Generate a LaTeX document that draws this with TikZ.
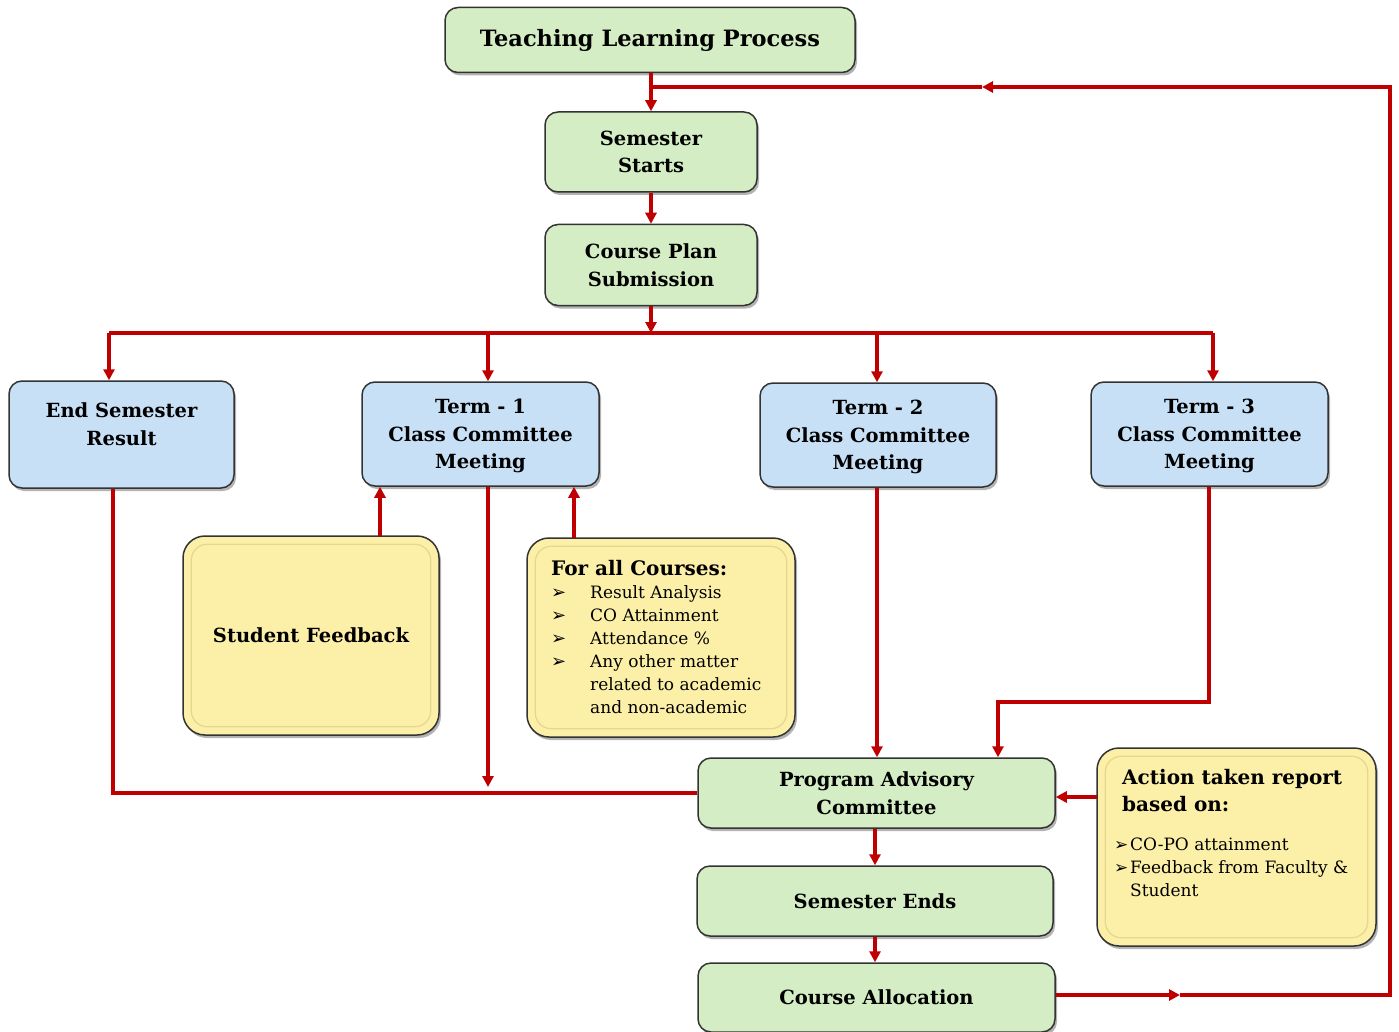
\documentclass[tikz,border=0pt]{standalone}
\usepackage{fontspec}
\setmainfont{DejaVu Serif}
\newfontfamily\symf{DejaVu Sans}
\usetikzlibrary{shadows,arrows.meta,calc}
\definecolor{gfill}{HTML}{D4EDC4}
\definecolor{bfill}{HTML}{C7E0F6}
\definecolor{yfill}{HTML}{FCF0A8}
\definecolor{yline}{HTML}{E6D78E}
\definecolor{arr}{HTML}{C00000}
\newcommand{\bul}{\makebox[39pt][l]{\symf\fontsize{18}{18}\selectfont ➢}}
\newcommand{\sbul}{\makebox[16pt][l]{\symf\fontsize{17}{17}\selectfont ➢}}
\begin{document}
\begin{tikzpicture}[x=1pt,y=-1pt,
  base/.style={rounded corners=13pt, draw=black!80, line width=1.5pt, align=center, inner sep=0pt,
    font=\bfseries\fontsize{19.5}{27.5}\selectfont,
    drop shadow={shadow xshift=2pt, shadow yshift=-3pt, opacity=0.6}},
  gbox/.style={base, fill=gfill},
  bbox/.style={base, fill=bfill},
  ybox/.style={base, fill=yfill, rounded corners=22pt},
  inner/.style={draw=yline, line width=1.3pt, rounded corners=16pt},
  arr/.style={draw=arr, line width=3.3pt, -{Triangle[length=11pt,width=11pt]}},
  ln/.style={draw=arr, line width=3.3pt},
  body/.style={anchor=west, inner sep=0pt, font=\fontsize{17}{23}\selectfont, align=left},
  ttl/.style={anchor=west, inner sep=0pt, font=\bfseries\fontsize{20}{27}\selectfont, align=left}]
\useasboundingbox (0,0) rectangle (1399,1032);

% green boxes
\node[gbox, minimum width=410, minimum height=65, font=\bfseries\fontsize{22.5}{24}\selectfont] (tlp) at (650,40) {Teaching Learning Process};
\node[gbox, minimum width=212, minimum height=80] (ss) at (651,152) {Semester\\Starts};
\node[gbox, minimum width=212, minimum height=81] (cps) at (651,265) {Course Plan\\Submission};
\node[gbox, minimum width=357, minimum height=70] (pac) at (876.5,793) {Program Advisory\\Committee};
\node[gbox, minimum width=356, minimum height=70] (se) at (875,901) {Semester Ends};
\node[gbox, minimum width=357, minimum height=69] (ca) at (876.5,997.5) {Course Allocation};

% blue boxes
\node[bbox, minimum width=225, minimum height=107, text depth=21pt] (esr) at (121.5,434.5) {End Semester\\Result};
\node[bbox, minimum width=237, minimum height=104, text depth=0pt] (t1) at (480.5,434) {Term - 1\\Class Committee\\Meeting};
\node[bbox, minimum width=236, minimum height=104, text depth=0pt] (t2) at (878,435) {Term - 2\\Class Committee\\Meeting};
\node[bbox, minimum width=237, minimum height=104, text depth=0pt] (t3) at (1209.5,434) {Term - 3\\Class Committee\\Meeting};

% yellow boxes
\node[ybox, minimum width=256, minimum height=199] (sf) at (311,635.5) {Student Feedback};
\draw[inner] ($(sf.south west)+(9,-9)$) rectangle ($(sf.north east)+(-9,9)$);
\node[ybox, minimum width=268, minimum height=199] (fc) at (661,637.5) {};
\draw[inner] ($(fc.south west)+(9,-9)$) rectangle ($(fc.north east)+(-9,9)$);
\node[ybox, minimum width=279, minimum height=198] (atr) at (1236.5,847) {};
\draw[inner] ($(atr.south west)+(9,-9)$) rectangle ($(atr.north east)+(-9,9)$);

% yellow box texts
\node[ttl] (fct) at (551,568) {For all Courses:};
\node[body, anchor=north west] (fcb) at (551,585) {\bul Result Analysis\\\bul CO Attainment\\\bul Attendance \%\\\bul Any other matter\\\hspace*{39pt}related to academic\\\hspace*{39pt}and non-academic};
\node[ttl, anchor=north west] (atrt) at (1122,769) {Action taken report\\based on:};
\node[body, anchor=north west] (atrb) at (1114,838) {\sbul CO-PO attainment\\\sbul Feedback from Faculty \&\\\hspace*{16pt}Student};

% connectors
\coordinate (j1) at (651,87);
\draw[arr] (ss.north |- tlp.south) -- (ss.north);
\draw[arr] (ss.south) -- (cps.north);
\coordinate (bus) at (651,333);
\draw[arr] (cps.south) -- (bus);
\coordinate (d0) at (109,333);
\coordinate (d1) at (488,333);
\coordinate (d2) at (877,333);
\coordinate (d3) at (1213,333);
\draw[ln] (d0) -- (d3);
\draw[arr] (d0) -- (d0 |- esr.north);
\draw[arr] (d1) -- (d1 |- t1.north);
\draw[arr] (d2) -- (d2 |- t2.north);
\draw[arr] (d3) -- (d3 |- t3.north);

\coordinate (u1) at (380,536);
\coordinate (u2) at (574,538);
\draw[arr] (u1) -- (u1 |- t1.south);
\draw[arr] (u2) -- (u2 |- t1.south);

\coordinate (e1) at (488,787);
\draw[arr] (e1 |- t1.south) -- (e1);

\coordinate (c1) at (113,793);
\draw[ln] (c1 |- esr.south) -- (c1) -- (pac.west);

\draw[arr] (t2.south -| d2) -- (d2 |- pac.north);

\coordinate (k1) at (1209,702);
\coordinate (k2) at (998,702);
\draw[arr] (k1 |- t3.south) -- (k1) -- (k2) -- (k2 |- pac.north);

\coordinate (a1) at (1097,797);
\draw[arr] (a1) -- (a1 -| pac.east);

\draw[arr] (pac.south -| se.north) -- (se.north);
\draw[arr] (se.south) -- (se.south |- ca.north);

\coordinate (m1) at (1180,995);
\coordinate (r1) at (1390,995);
\coordinate (r2) at (1390,87);
\coordinate (m2) at (982,87);
\draw[arr] (ca.east |- m1) -- (m1);
\draw[arr] (m1) -- (r1) -- (r2) -- (m2);
\draw[ln] (m2) -- (j1);
\end{tikzpicture}
\end{document}
